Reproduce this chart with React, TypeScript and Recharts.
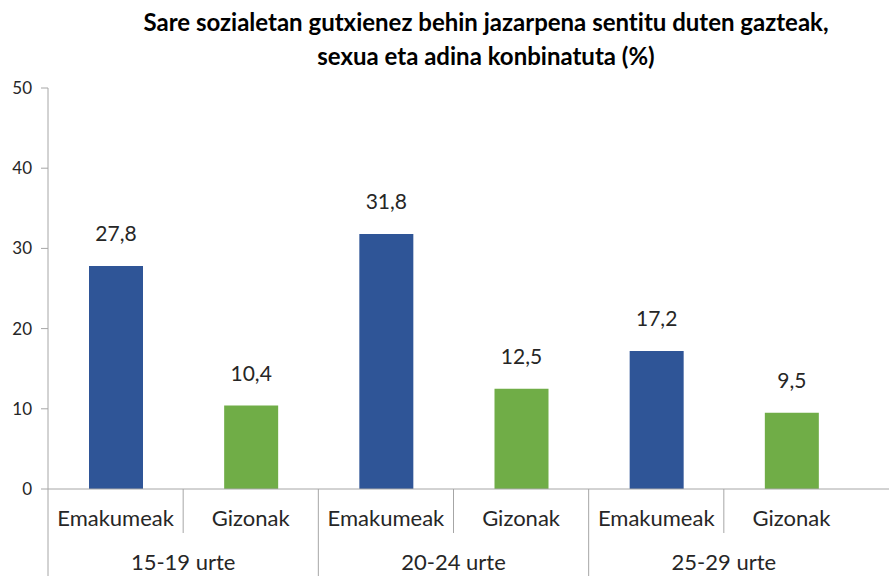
import { BarChart, Bar, XAxis, YAxis, Cell, LabelList } from "recharts";

const groups = ["15-19 urte", "20-24 urte", "25-29 urte"];
const sexes = ["Emakumeak", "Gizonak"];
// one value per group × sex, in reading order
const values = [27.8, 10.4, 31.8, 12.5, 17.2, 9.5];
const yTicks = [0, 10, 20, 30, 40, 50];
const sexColors = ["#2F5597", "#70AD47"];

const data = values.map((v, i) => ({
  key: `${groups[Math.floor(i / 2)]}|${sexes[i % 2]}`,
  group: groups[Math.floor(i / 2)],
  sex: sexes[i % 2],
  sexIndex: i % 2,
  value: v,
}));

const W = 889;
const H = 576;
const LEFT = 48;
const PAD_RIGHT = 30;
const HALF = (W - LEFT - PAD_RIGHT) / data.length / 2;
const AXIS = "#a6a6a6";
const TEXT = "#262626";
const FONT = "Lato, 'Open Sans', sans-serif";

function CategoryTick(props: any) {
  const { x, y, index } = props;
  const row = data[index];
  if (!row) return null;
  const groupEnd = index % 2 === 1;
  return (
    <g>
      {index === 0 && (
        <line x1={x - HALF} x2={x - HALF} y1={y} y2={H} stroke={AXIS} />
      )}
      {index < data.length - 1 && (
        <line
          x1={x + HALF}
          x2={x + HALF}
          y1={y}
          y2={groupEnd ? H : y + 44}
          stroke={AXIS}
        />
      )}
      <text x={x} y={y + 37} textAnchor="middle" fill={TEXT} fontSize={22} fontFamily={FONT}>
        {row.sex}
      </text>
      {index % 2 === 0 && (
        <text x={x + HALF} y={y + 81} textAnchor="middle" fill={TEXT} fontSize={22} fontFamily={FONT}>
          {row.group}
        </text>
      )}
    </g>
  );
}

export default function App() {
  return (
    <div style={{ position: "absolute", left: 0, top: 0, width: W, height: H, background: "#fff" }}>
      <div
        style={{
          position: "absolute",
          left: 486 - 420,
          top: 5,
          width: 840,
          textAlign: "center",
          fontFamily: FONT,
          fontWeight: 700,
          fontSize: 24,
          lineHeight: "34px",
          color: "#000",
          fontVariantLigatures: "none",
        }}
      >
        Sare sozialetan gutxienez behin jazarpena sentitu duten gazteak,
        <br />
        sexua eta adina konbinatuta (%)
      </div>
      <BarChart
        width={W}
        height={H}
        data={data}
        margin={{ top: 88, right: 0, left: 0, bottom: 0 }}
      >
        <XAxis
          dataKey="key"
          interval={0}
          height={87}
          padding={{ left: 0, right: PAD_RIGHT }}
          axisLine={{ stroke: AXIS }}
          tickLine={false}
          tickSize={0}
          tickMargin={0}
          tick={<CategoryTick />}
        />
        <YAxis
          domain={[0, 50]}
          ticks={yTicks}
          width={LEFT}
          axisLine={{ stroke: AXIS }}
          tickLine={{ stroke: AXIS }}
          tickSize={7}
          tickMargin={9}
          tick={{ fill: TEXT, fontSize: 17, fontFamily: FONT }}
        />
        <Bar dataKey="value" barSize={54} isAnimationActive={false}>
          {data.map((d) => (
            <Cell key={d.key} fill={sexColors[d.sexIndex]} />
          ))}
          <LabelList
            dataKey="value"
            position="top"
            offset={25}
            fill={TEXT}
            fontSize={21}
            fontFamily={FONT}
            formatter={(v: any) => Number(v).toFixed(1).replace(".", ",")}
          />
        </Bar>
      </BarChart>
    </div>
  );
}
